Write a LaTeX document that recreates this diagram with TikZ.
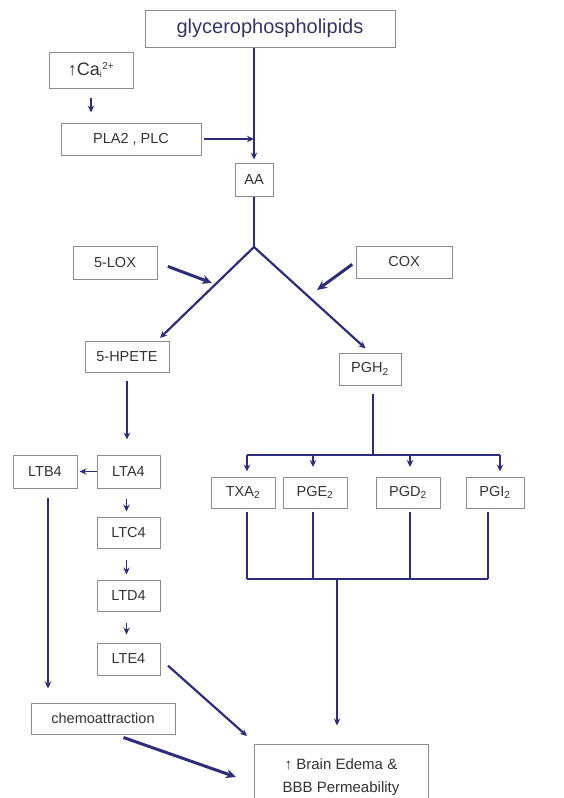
\documentclass[tikz,border=0pt]{standalone}
\usepackage{fontspec}
\setmainfont{Liberation Sans}
\usetikzlibrary{arrows.meta,calc}
\definecolor{navy}{HTML}{2D2D7A}
\definecolor{bordergray}{HTML}{8C8C8C}
\definecolor{txt}{HTML}{333333}
\definecolor{gtxt}{HTML}{353563}
\begin{document}
\begin{tikzpicture}[x=1pt,y=-1pt,
  box/.style={draw=bordergray,line width=1pt,fill=white,text=txt,inner sep=0pt,font=\fontsize{14.5}{16}\selectfont,align=center},
  conn/.style={draw=navy,line width=2.2pt,-{Stealth[length=7pt,width=6.5pt]}},
  plain/.style={draw=navy,line width=2.2pt},
  thick arrow/.style={draw=navy,line width=3pt,-{Stealth[length=10pt,width=9pt]}}]
\useasboundingbox (0,0) rectangle (563,798);
\begin{scope}
\clip (0,0) rectangle (563,798);
% nodes
\node[box,minimum width=250,minimum height=37,text=gtxt,font=\fontsize{20}{22}\selectfont] (glyc) at (270,28.5) {glycerophospholipids};
\node[box,minimum width=84,minimum height=36,font=\fontsize{18}{20}\selectfont] (ca) at (91,70) {↑Ca\textsubscript{\fontsize{9}{9}\selectfont i}\textsuperscript{\fontsize{10}{10}\selectfont 2+}};
\node[box,minimum width=140,minimum height=32] (pla) at (131,139) {PLA2 , PLC};
\node[box,minimum width=38,minimum height=33] (aa) at (254,179.5) {AA};
\node[box,minimum width=84,minimum height=33] (lox) at (115,262.5) {5-LOX};
\node[box,minimum width=96,minimum height=32] (cox) at (404,262) {COX};
\node[box,minimum width=84,minimum height=31] (hpete) at (127,356.5) {5-HPETE};
\node[box,minimum width=62,minimum height=32] (pgh) at (370,369) {PGH\textsubscript{2}};
\node[box,minimum width=64,minimum height=33] (ltb4) at (45,471.5) {LTB4};
\node[box,minimum width=63,minimum height=33] (lta4) at (128.5,471.5) {LTA4};
\node[box,minimum width=63,minimum height=31] (ltc4) at (128.5,532.5) {LTC4};
\node[box,minimum width=63,minimum height=31] (ltd4) at (128.5,595.5) {LTD4};
\node[box,minimum width=63,minimum height=32] (lte4) at (128.5,659) {LTE4};
\node[box,minimum width=64,minimum height=31] (txa) at (243,492.5) {TXA\textsubscript{2}};
\node[box,minimum width=64,minimum height=31] (pge) at (315,492.5) {PGE\textsubscript{2}};
\node[box,minimum width=64,minimum height=31] (pgd) at (408,492.5) {PGD\textsubscript{2}};
\node[box,minimum width=58,minimum height=31] (pgi) at (495,492.5) {PGI\textsubscript{2}};
\node[box,minimum width=144,minimum height=31] (chemo) at (103,718.5) {chemoattraction};
\node[box,minimum width=174,minimum height=66,font=\fontsize{15}{23}\selectfont] (brain) at (341,777) {↑ Brain Edema \&\\BBB Permeability};
% coordinates
\coordinate (fork) at (254,247);
\coordinate (hptip) at (160,338);
\coordinate (loxtip) at (212,283);
\coordinate (coxtip) at (317,290);
\coordinate (pbar) at (373,455);
\coordinate (barL) at (247,455);
\coordinate (barR) at (500,455);
\coordinate (lbarL) at (247,579);
\coordinate (lbarR) at (488,579);
\coordinate (lbarM) at (337,579);
\coordinate (ltetip) at (247,736);
\coordinate (chtip) at (236,777);
% connectors
\draw[conn,line width=1.5pt,shorten <=9pt,shorten >=10pt] (ca.south) -- (ca.south |- pla.north);
\draw[conn,shorten >=3pt] (aa.north |- glyc.south) -- (aa.north);
\draw[conn,shorten <=2pt] (pla.east) -- (pla.east -| aa.north);
\draw[plain] (aa.south) -- (fork);
\draw[conn] (fork) -- (hptip);
\draw[conn,shorten >=6pt] (fork) -- (pgh.north);
\draw[thick arrow,shorten <=11pt] (lox.east) -- (loxtip);
\draw[thick arrow,shorten <=4pt] (cox.west) -- (coxtip);
\draw[conn,shorten <=8pt,shorten >=15pt] (hpete.south) -- (hpete.south |- lta4.north);
\draw[plain,shorten <=8pt] (pbar |- pgh.south) -- (pbar);
\draw[plain] (barL) -- (barR);
\draw[conn,shorten >=5pt] (barL) -- (barL |- txa.north);
\draw[conn,shorten >=5pt] (pbar -| pge.north) ++(-2,0) -- ++(0,17);
\draw[conn,shorten >=5pt] (pbar -| pgd.north) ++(2,0) -- ++(0,17);
\draw[conn,shorten >=5pt] (barR) -- (barR |- pgi.north);
\draw[plain,shorten <=3pt] (barL |- txa.south) -- (lbarL);
\draw[plain,shorten <=3pt] ($(pge.south)+(-2,0)$) -- ($(lbarL -| pge.south)+(-2,0)$);
\draw[plain,shorten <=3pt] ($(pgd.south)+(2,0)$) -- ($(lbarL -| pgd.south)+(2,0)$);
\draw[plain,shorten <=3pt] (lbarR |- pgi.south) -- (lbarR);
\draw[plain] (lbarL) -- (lbarR);
\draw[conn,shorten >=18pt] (lbarM) -- (lbarM |- brain.north);
\draw[conn,line width=1.5pt,shorten >=2pt] (lta4.west) -- (ltb4.east);
\draw[conn,line width=1.5pt,shorten <=10pt,shorten >=5pt] ([xshift=-2pt]lta4.south) -- ([xshift=-2pt]ltc4.north);
\draw[conn,line width=1.5pt,shorten <=11pt,shorten >=5pt] ([xshift=-2pt]ltc4.south) -- ([xshift=-2pt]ltd4.north);
\draw[conn,line width=1.5pt,shorten <=11pt,shorten >=8pt] ([xshift=-2pt]ltd4.south) -- ([xshift=-2pt]lte4.north);
\draw[conn,shorten <=9pt,shorten >=14pt] ([xshift=3pt]ltb4.south) -- ([xshift=3pt]ltb4.south |- chemo.north);
\draw[conn,shorten <=10pt] (lte4.east) -- (ltetip);
\draw[thick arrow,shorten <=9pt] ([xshift=12pt]chemo.south) -- (chtip);
\end{scope}
\end{tikzpicture}
\end{document}
